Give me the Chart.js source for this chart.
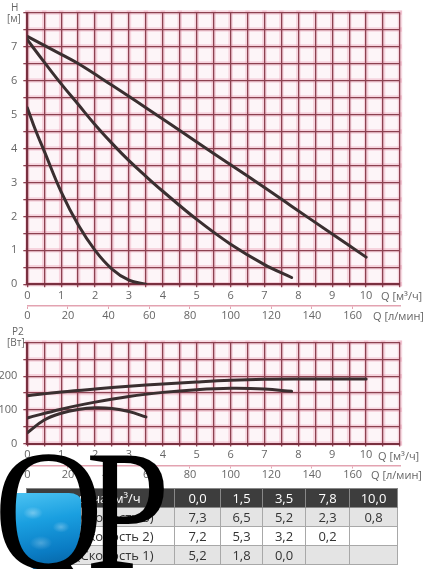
<!DOCTYPE html>
<html>
<head>
<meta charset="utf-8">
<script src="https://cdn.jsdelivr.net/npm/chart.js@4.4.0/dist/chart.umd.min.js"></script>
<style>
  html,body{margin:0;padding:0;background:#fff;}
  #wrap{position:relative;width:427px;height:569px;overflow:hidden;background:#fff;font-family:'Open Sans',sans-serif;}
  canvas{position:absolute;left:0;}
  .lbl{position:absolute;font-size:11px;color:#666;white-space:nowrap;line-height:1;}
  table{position:absolute;left:26px;top:488px;border-collapse:collapse;font-size:13px;color:#333;table-layout:fixed;}
  td,th{height:18px;padding:0;text-align:center;border:1px solid #a8a8a8;line-height:17px;}
  th{background:#3d3d3d;color:#fff;font-weight:normal;border-color:#888;}
  tr.g td{background:#e4e4e4;}
  tr.w td{background:#fff;}
  #water{position:absolute;left:13px;top:493px;width:68px;height:80px;
    border-radius:4px 12px 50% 50% / 4px 8px 62% 62%;
    background:
      radial-gradient(ellipse 14px 9px at 20px 20px, rgba(255,255,255,0.35), rgba(255,255,255,0) 70%),
      radial-gradient(ellipse 12px 8px at 48px 34px, rgba(255,255,255,0.3), rgba(255,255,255,0) 70%),
      radial-gradient(ellipse 16px 10px at 28px 50px, rgba(255,255,255,0.25), rgba(255,255,255,0) 70%),
      linear-gradient(170deg,#4cc3f2 0%,#1a9fe0 35%,#0a7cc4 70%,#055a96 100%);}
  #logo{position:absolute;left:-6px;top:424px;font-family:'Liberation Serif','DejaVu Serif',serif;font-size:172px;line-height:1;color:#000;
    letter-spacing:-20px;transform:scaleX(0.88);transform-origin:0 0;white-space:nowrap;}
</style>
</head>
<body>
<div id="wrap">
  <canvas id="c1" width="427" height="326" style="top:0;width:427px;height:326px;"></canvas>
  <canvas id="c2" width="427" height="155" style="top:330px;width:427px;height:155px;"></canvas>

  <div class="lbl" style="left:11px;top:2px;font-size:10px;">H</div>
  <div class="lbl" style="left:7px;top:13px;font-size:10px;">[м]</div>
  <div class="lbl" style="left:381px;top:290px;">Q [м³/ч]</div>
  <div class="lbl" style="left:373px;top:310px;">Q [л/мин]</div>

  <div class="lbl" style="left:12px;top:326px;font-size:10px;">P2</div>
  <div class="lbl" style="left:7px;top:337px;font-size:10px;">[Вт]</div>
  <div class="lbl" style="left:378px;top:450px;">Q [м³/ч]</div>
  <div class="lbl" style="left:371px;top:469px;">Q [л/мин]</div>

  <table id="tbl"></table>
  <div id="water"></div>
  <div id="logo">QP</div>
</div>
<script>
// ---- Head curves H(Q), m, Q in m³/h ----
const flowS3 = [0, 1, 1.5, 2.5, 3.5, 5, 6, 7, 7.8, 9, 10];
const headS3 = [7.3, 6.77, 6.5, 5.86, 5.2, 4.19, 3.52, 2.85, 2.3, 1.48, 0.8];
const flowS2 = [0, 0.5, 1, 1.5, 2, 2.5, 3, 3.5, 4, 5, 6, 7, 7.8];
const headS2 = [7.2, 6.54, 5.9, 5.3, 4.7, 4.15, 3.64, 3.18, 2.74, 1.91, 1.18, 0.58, 0.2];
const flowS1 = [0, 0.25, 0.5, 1, 1.5, 2, 2.5, 3, 3.5];
const headS1 = [5.2, 4.52, 3.92, 2.72, 1.75, 1.0, 0.45, 0.12, 0];

// ---- Power curves P2(Q), W ----
const pFlowS3 = [0, 1, 2, 3, 4, 5, 6, 7, 8, 9, 10];
const powerS3 = [142, 153, 162, 170, 177, 183, 188, 191, 192, 192, 192];
const pFlowS2 = [0, 1, 2, 3, 4, 5, 6, 7, 7.8];
const powerS2 = [76, 102, 123, 140, 152, 160, 164, 162, 155];
const pFlowS1 = [0, 0.5, 1, 1.5, 2, 2.5, 3, 3.5];
const powerS1 = [32, 70, 90, 101, 106, 104, 95, 79];

// ---- Axis ticks ----
const qTickLabels = [0, 1, 2, 3, 4, 5, 6, 7, 8, 9, 10];
const lpmTicks = [0, 20, 40, 60, 80, 100, 120, 140, 160];
const hTickLabels = [0, 1, 2, 3, 4, 5, 6, 7];
const pTickLabels = [0, 100, 200];

// ---- Table ----
const tableHeader = 'Подача, м³/ч';
const tableFlows = ['0,0', '1,5', '3,5', '7,8', '10,0'];
const tableRowNames = ['H, м (Скорость 3)', 'H, м (Скорость 2)', 'H, м (Скорость 1)'];
const tableS3 = ['7,3', '6,5', '5,2', '2,3', '0,8'];
const tableS2 = ['7,2', '5,3', '3,2', '0,2', ''];
const tableS1 = ['5,2', '1,8', '0,0', '', ''];

// build table
(function(){
  const t = document.getElementById('tbl');
  const widths = [148, 46, 42, 43, 44, 48];
  let html = '<colgroup>' + widths.map(w => '<col style="width:' + w + 'px">').join('') + '</colgroup>';
  html += '<tr><th>' + tableHeader + '</th>' + tableFlows.map(v => '<th>' + v + '</th>').join('') + '</tr>';
  const rows = [tableS3, tableS2, tableS1];
  const cls = ['g', 'w', 'g'];
  rows.forEach((r, i) => {
    html += '<tr class="' + cls[i] + '"><td>' + tableRowNames[i] + '</td>' + r.map(v => '<td>' + v + '</td>').join('') + '</tr>';
  });
  t.innerHTML = html;
})();

Chart.defaults.font.family = "'Open Sans', sans-serif";
Chart.defaults.font.size = 11;
Chart.defaults.color = '#666';

const GRID = '#8c4150';
const CURVE = '#3a2f30';
const PINK = '#e3a3b1';

function pts(xs, ys){ return xs.map((x, i) => ({x: x, y: ys[i]})); }

const gridGlow = {
  id: 'gridGlow',
  beforeDraw(chart){
    const {ctx, chartArea: a, scales} = chart;
    ctx.save();
    ctx.fillStyle = '#fdf5f8';
    ctx.fillRect(a.left, a.top, a.width, a.height);
    ctx.strokeStyle = 'rgba(232,150,172,0.35)';
    ctx.lineWidth = 4.5;
    scales.x.ticks.forEach(t => {
      const p = scales.x.getPixelForValue(t.value);
      ctx.beginPath(); ctx.moveTo(p, a.top - 2); ctx.lineTo(p, a.bottom + 2); ctx.stroke();
    });
    scales.y.ticks.forEach(t => {
      const p = scales.y.getPixelForValue(t.value);
      ctx.beginPath(); ctx.moveTo(a.left - 2, p); ctx.lineTo(a.right + 2, p); ctx.stroke();
    });
    ctx.restore();
  }
};

function lineDs(data){
  return {data: data, borderColor: CURVE, borderWidth: 3, pointRadius: 0, fill: false,
          tension: 0.4, borderCapStyle: 'round', xAxisID: 'x', yAxisID: 'y'};
}

function makeOptions(yMax, yStep, yLabels, top, xH, x2H){
  return {
    responsive: false, animation: false,
    layout: {padding: {top: top, right: 27, left: 0, bottom: 0}},
    plugins: {legend: {display: false}, tooltip: {enabled: false}},
    scales: {
      x: {
        type: 'linear', position: 'bottom', weight: 0, min: 0, max: 11,
        grid: {color: GRID, lineWidth: 1.3, tickLength: 3, tickColor: GRID},
        border: {color: '#7a3040', width: 2},
        ticks: {stepSize: 0.5, autoSkip: false, maxRotation: 0, padding: 2,
                callback: v => qTickLabels.includes(v) ? String(v) : ''},
        afterFit: s => { s.height = xH; }
      },
      x2: {
        type: 'linear', position: 'bottom', weight: 1, min: 0, max: 11 / 0.06,
        grid: {drawOnChartArea: false, color: PINK, tickLength: 3, lineWidth: 1},
        border: {color: PINK, width: 1.5},
        ticks: {autoSkip: false, maxRotation: 0, padding: 0, callback: v => String(v)},
        afterBuildTicks: s => { s.ticks = lpmTicks.map(v => ({value: v})); },
        afterFit: s => { s.height = x2H; }
      },
      y: {
        type: 'linear', position: 'left', min: 0, max: yMax,
        grid: {color: GRID, lineWidth: 1.3, tickLength: 4, tickColor: GRID},
        border: {color: '#7a3040', width: 2},
        ticks: {stepSize: yStep, autoSkip: false, padding: 6,
                callback: v => yLabels.includes(v) ? String(v) : ''},
        afterFit: s => { s.width = 27.3; }
      }
    }
  };
}

new Chart(document.getElementById('c1'), {
  type: 'line',
  data: {datasets: [
    lineDs(pts(flowS3, headS3)),
    lineDs(pts(flowS2, headS2)),
    lineDs(pts(flowS1, headS1))
  ]},
  options: makeOptions(8, 0.5, hTickLabels, 7, 21.7, 20),
  plugins: [gridGlow]
});

new Chart(document.getElementById('c2'), {
  type: 'line',
  data: {datasets: [
    lineDs(pts(pFlowS3, powerS3)),
    lineDs(pts(pFlowS2, powerS2)),
    lineDs(pts(pFlowS1, powerS1))
  ]},
  options: makeOptions(300, 50, pTickLabels, 7.5, 22, 19.5),
  plugins: [gridGlow]
});
</script>
</body>
</html>
